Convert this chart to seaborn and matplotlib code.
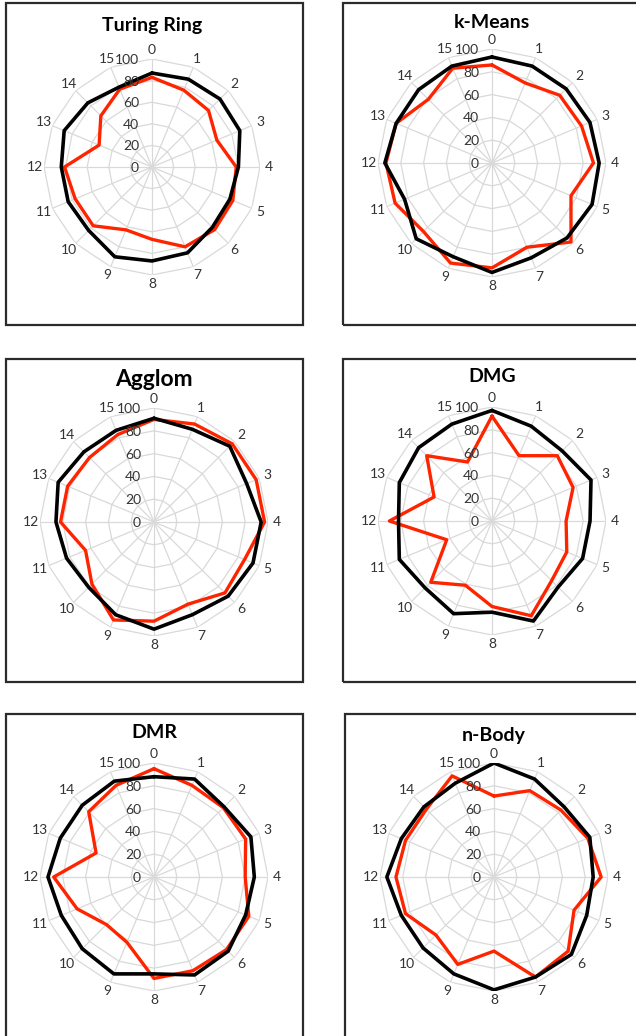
import numpy as np
import matplotlib
matplotlib.use("Agg")
import matplotlib.pyplot as plt
import matplotlib.transforms as mtransforms
from matplotlib.patches import Rectangle
import seaborn as sns

sns.set_style("white")
plt.rcParams['font.family'] = ['Lato', 'DejaVu Sans']

# 16 spokes, values in percent
categories = [str(i) for i in range(16)]
rings = [0, 20, 40, 60, 80, 100]

titles = ["Turing Ring", "k-Means", "Agglom", "DMG", "DMR", "n-Body"]

turing_black = [87, 88, 89, 88, 80, 78, 79, 86, 87, 90, 83, 84, 84, 88, 84, 80]
turing_red = [83, 77, 74, 65, 78, 81, 82, 80, 67, 63, 77, 77, 81, 53, 67, 78]

kmeans_black = [93, 92, 92, 93, 94, 95, 93, 90, 96, 89, 94, 83, 94, 91, 91, 92]
kmeans_red = [86, 76, 84, 85, 89, 75, 98, 80, 92, 95, 85, 92, 93, 91, 79, 90]

agglom_black = [91, 88, 94, 88, 94, 94, 92, 88, 94, 88, 81, 83, 86, 91, 87, 87]
agglom_red = [90, 93, 97, 97, 97, 86, 88, 78, 87, 93, 77, 65, 82, 82, 80, 83]

dmg_black = [97, 90, 87, 94, 86, 86, 82, 95, 80, 88, 83, 88, 82, 88, 91, 92]
dmg_red = [92, 62, 81, 77, 65, 71, 74, 90, 75, 61, 76, 43, 90, 55, 81, 56]

dmr_black = [88, 93, 87, 92, 88, 87, 92, 93, 85, 92, 89, 88, 93, 89, 89, 91]
dmr_red = [95, 87, 86, 87, 80, 90, 90, 89, 89, 62, 59, 73, 88, 55, 81, 87]

nbody_black = [100, 93, 87, 91, 87, 88, 96, 95, 99, 92, 88, 88, 94, 88, 87, 89]
nbody_red = [71, 82, 83, 89, 94, 76, 92, 95, 65, 83, 72, 84, 86, 84, 84, 96]

black_series = [turing_black, kmeans_black, agglom_black, dmg_black, dmr_black, nbody_black]
red_series = [turing_red, kmeans_red, agglom_red, dmg_red, dmr_red, nbody_red]

W, H = 636, 1036
fig = plt.figure(figsize=(W / 100, H / 100), dpi=100)

# panel frames (px): left, top, right, bottom
frames = [(6, 3, 303, 325), (343, 3, 645, 325),
          (6, 359, 303, 682), (343, 359, 645, 682),
          (6, 714, 303, 1045), (345, 714, 645, 1045)]
# polar centres and radius (px)
centres = [(152, 167, 108), (492, 163, 114),
           (154, 522, 114), (492, 521, 114),
           (154, 877, 114), (494, 877, 114)]
title_y = [25, 22, 379, 377, 733, 735]
title_size = [14, 14, 16.5, 14, 14, 14]

theta = np.linspace(0, 2 * np.pi, len(categories), endpoint=False)
theta_c = np.append(theta, theta[0])
grid_col = "#D9D9D9"
text_col = "#333333"

for i in range(6):
    l, t, r, b = frames[i]
    fig.patches.append(Rectangle((l / W, 1 - b / H), (r - l) / W, (b - t) / H,
                                 transform=fig.transFigure, fill=False,
                                 edgecolor="#2b2b2b", lw=1.6))
    cx, cy, R = centres[i]
    ax = fig.add_axes([(cx - R) / W, (H - cy - R) / H, 2 * R / W, 2 * R / H],
                      projection="polar")
    ax.set_theta_zero_location("N")
    ax.set_theta_direction(-1)
    ax.grid(False)
    ax.spines["polar"].set_visible(False)
    ax.patch.set_alpha(0)

    for rv in rings[1:]:
        ax.plot(theta_c, [rv] * len(theta_c), color=grid_col, lw=0.9, zorder=1)
    for th in theta:
        ax.plot([th, th], [0, 100], color=grid_col, lw=0.9, zorder=1)

    red = list(red_series[i]) + [red_series[i][0]]
    blk = list(black_series[i]) + [black_series[i][0]]
    sns.lineplot(x=theta_c, y=red, sort=False, estimator=None, ax=ax,
                 color="#FF2400", lw=2.4, zorder=3)
    sns.lineplot(x=theta_c, y=blk, sort=False, estimator=None, ax=ax,
                 color="black", lw=2.6, zorder=4)
    ax.set_xlabel("")
    ax.set_ylabel("")
    ax.set_ylim(0, 100)
    ax.set_yticks([])
    ax.set_xticks(theta)
    ax.set_xticklabels(categories, fontsize=10, color=text_col)
    ax.tick_params(axis="x", pad=-4)

    off = mtransforms.offset_copy(ax.transData, fig=fig, x=-13, y=-1, units="dots")
    for rv in rings:
        ax.text(0, rv, str(rv), transform=off, ha="right", va="center",
                fontsize=10, color=text_col, zorder=5)

    fig.text(cx / W, 1 - title_y[i] / H, titles[i], ha="center", va="center",
             fontsize=title_size[i], fontweight="bold", color="black")

fig.savefig("out.png", dpi=100)
